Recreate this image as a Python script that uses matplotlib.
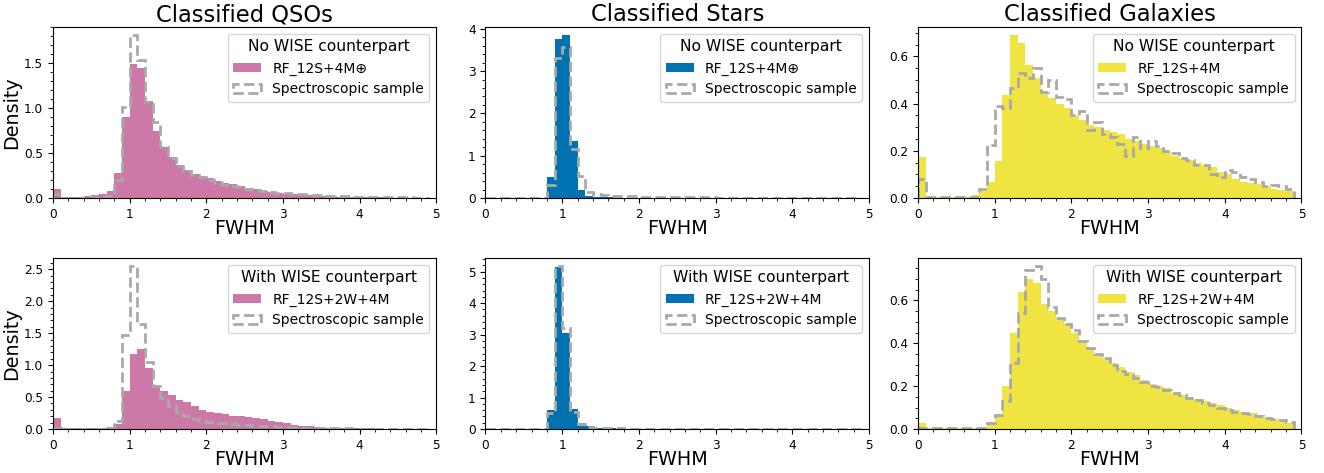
import numpy as np
import matplotlib
matplotlib.use("Agg")
import matplotlib.pyplot as plt
from matplotlib.ticker import AutoMinorLocator

# Bin edges (FWHM, width 0.1 from 0 to 4.9)
edges = np.round(np.arange(0, 4.91, 0.1), 2)

# Densidades: QSOs
qso_nowise_rf = [0.10, 0.01, 0.01, 0.015, 0.02, 0.035, 0.05, 0.08, 0.28, 0.90,
                 1.49, 1.45, 1.08, 0.74, 0.57, 0.46, 0.37, 0.31, 0.27, 0.24,
                 0.22, 0.19, 0.17, 0.155, 0.13, 0.11, 0.095, 0.08, 0.07, 0.06,
                 0.05, 0.04, 0.035, 0.03, 0.025, 0.02, 0.018, 0.015, 0.012, 0.01,
                 0.01, 0.008, 0.007, 0.006, 0.005, 0.005, 0.004, 0.004, 0.003]
qso_nowise_spec = [0.04, 0.005, 0.005, 0.005, 0.005, 0.01, 0.01, 0.02, 0.20, 1.01,
                   1.81, 1.53, 1.07, 0.84, 0.57, 0.45, 0.36, 0.30, 0.26, 0.23,
                   0.20, 0.17, 0.15, 0.13, 0.12, 0.10, 0.09, 0.08, 0.07, 0.06,
                   0.06, 0.05, 0.04, 0.035, 0.03, 0.025, 0.02, 0.02, 0.018, 0.015,
                   0.012, 0.01, 0.01, 0.01, 0.008, 0.008, 0.007, 0.006, 0.006]
qso_wise_rf = [0.17, 0.01, 0.01, 0.01, 0.015, 0.02, 0.02, 0.03, 0.08, 0.60,
               1.18, 1.25, 0.95, 0.69, 0.60, 0.54, 0.45, 0.42, 0.36, 0.29,
               0.27, 0.245, 0.235, 0.21, 0.20, 0.19, 0.17, 0.15, 0.13, 0.11,
               0.09, 0.07, 0.05, 0.04, 0.03, 0.02, 0.018, 0.015, 0.012, 0.01,
               0.01, 0.008, 0.007, 0.006, 0.005, 0.005, 0.004, 0.004, 0.003]
qso_wise_spec = [0.02, 0.0, 0.0, 0.0, 0.0, 0.005, 0.005, 0.01, 0.13, 1.47,
                 2.55, 1.65, 1.05, 0.68, 0.48, 0.36, 0.27, 0.20, 0.15, 0.13,
                 0.11, 0.10, 0.09, 0.08, 0.07, 0.06, 0.05, 0.045, 0.04, 0.035,
                 0.03, 0.025, 0.02, 0.018, 0.015, 0.012, 0.01, 0.01, 0.008, 0.007,
                 0.006, 0.005, 0.005, 0.004, 0.004, 0.003, 0.003, 0.003, 0.002]

# Estrellas
star_nowise_rf = [0, 0, 0, 0, 0, 0, 0, 0.005, 0.50, 3.75,
                  3.85, 1.35, 0.20, 0.05, 0.03, 0.02, 0.015, 0.01, 0.005, 0.003,
                  0.002, 0.002, 0.002, 0.001, 0.001, 0.001, 0.001, 0.001, 0.001, 0.001,
                  0, 0, 0, 0, 0, 0, 0, 0, 0, 0,
                  0, 0, 0, 0, 0, 0, 0, 0, 0]
star_nowise_spec = [0, 0, 0, 0, 0, 0, 0, 0.005, 0.30, 3.32,
                    3.58, 1.15, 0.52, 0.15, 0.09, 0.07, 0.06, 0.05, 0.045, 0.04,
                    0.035, 0.03, 0.03, 0.025, 0.025, 0.02, 0.02, 0.018, 0.015, 0.015,
                    0.012, 0.012, 0.01, 0.01, 0.01, 0.008, 0.008, 0.007, 0.007, 0.006,
                    0.006, 0.005, 0.005, 0.005, 0.004, 0.004, 0.004, 0.003, 0.003]
star_wise_rf = [0, 0, 0, 0, 0, 0, 0, 0.005, 0.60, 5.15,
                3.05, 0.65, 0.20, 0.10, 0.04, 0.02, 0.02, 0.015, 0.01, 0.008,
                0.005, 0.004, 0.003, 0.002, 0.002, 0.001, 0.001, 0.001, 0.001, 0.001,
                0, 0, 0, 0, 0, 0, 0, 0, 0, 0,
                0, 0, 0, 0, 0, 0, 0, 0, 0]
star_wise_spec = [0, 0, 0, 0, 0, 0, 0, 0.005, 0.50, 5.18,
                  3.20, 0.55, 0.15, 0.07, 0.04, 0.03, 0.02, 0.02, 0.015, 0.01,
                  0.01, 0.008, 0.006, 0.005, 0.005, 0.004, 0.004, 0.003, 0.003, 0.003,
                  0.002, 0.002, 0.002, 0.002, 0.002, 0.001, 0.001, 0.001, 0.001, 0.001,
                  0.001, 0.001, 0.001, 0.001, 0.001, 0.001, 0.001, 0.001, 0.001]

# Galaxias
gal_nowise_rf = [0.175, 0.003, 0.003, 0.003, 0.003, 0.003, 0.005, 0.012, 0.03, 0.07,
                 0.155, 0.435, 0.69, 0.655, 0.565, 0.51, 0.45, 0.425, 0.40, 0.38,
                 0.35, 0.33, 0.31, 0.30, 0.29, 0.28, 0.27, 0.25, 0.24, 0.23,
                 0.22, 0.21, 0.20, 0.18, 0.17, 0.16, 0.15, 0.14, 0.13, 0.11,
                 0.10, 0.08, 0.07, 0.065, 0.06, 0.05, 0.04, 0.035, 0.03]
gal_nowise_spec = [0.08, 0.003, 0.003, 0.003, 0.003, 0.003, 0.003, 0.005, 0.04, 0.225,
                   0.39, 0.38, 0.465, 0.53, 0.51, 0.55, 0.45, 0.50, 0.43, 0.42,
                   0.35, 0.37, 0.29, 0.32, 0.27, 0.26, 0.23, 0.18, 0.26, 0.21,
                   0.24, 0.22, 0.20, 0.19, 0.17, 0.16, 0.14, 0.14, 0.10, 0.09,
                   0.12, 0.11, 0.09, 0.08, 0.07, 0.05, 0.055, 0.05, 0.04]
gal_wise_rf = [0.03, 0.003, 0.003, 0.003, 0.003, 0.003, 0.003, 0.003, 0.005, 0.02,
               0.06, 0.20, 0.45, 0.64, 0.70, 0.68, 0.585, 0.55, 0.52, 0.49,
               0.45, 0.41, 0.38, 0.35, 0.33, 0.31, 0.29, 0.265, 0.25, 0.23,
               0.21, 0.20, 0.19, 0.17, 0.16, 0.15, 0.14, 0.13, 0.12, 0.11,
               0.10, 0.09, 0.08, 0.075, 0.065, 0.055, 0.045, 0.035, 0.03]
gal_wise_spec = [0.005, 0.003, 0.003, 0.003, 0.003, 0.003, 0.003, 0.003, 0.003, 0.03,
                 0.065, 0.13, 0.31, 0.54, 0.74, 0.76, 0.70, 0.57, 0.52, 0.49,
                 0.46, 0.41, 0.38, 0.35, 0.33, 0.30, 0.27, 0.255, 0.24, 0.22,
                 0.20, 0.195, 0.18, 0.17, 0.16, 0.145, 0.135, 0.12, 0.11, 0.10,
                 0.09, 0.08, 0.075, 0.07, 0.06, 0.05, 0.045, 0.04, 0.035]

titles = ["Classified QSOs", "Classified Stars", "Classified Galaxies"]
colors = ["#CC79A7", "#0072B2", "#F0E442"]
row_titles = ["No WISE counterpart", "With WISE counterpart"]
labels = [["RF_12S+4M\u2295", "RF_12S+4M\u2295", "RF_12S+4M"],
          ["RF_12S+2W+4M", "RF_12S+2W+4M", "RF_12S+2W+4M"]]
rf_data = [[qso_nowise_rf, star_nowise_rf, gal_nowise_rf],
           [qso_wise_rf, star_wise_rf, gal_wise_rf]]
spec_data = [[qso_nowise_spec, star_nowise_spec, gal_nowise_spec],
             [qso_wise_spec, star_wise_spec, gal_wise_spec]]

fig, axes = plt.subplots(2, 3, figsize=(13.24, 4.73), dpi=100)
fig.subplots_adjust(left=0.040, right=0.983, top=0.943, bottom=0.093,
                    wspace=0.128, hspace=0.35)

centers = edges[:-1] + 0.05
for i in range(2):
    for j in range(3):
        ax = axes[i, j]
        ax.hist(centers, bins=edges, weights=rf_data[i][j], histtype="stepfilled",
                color=colors[j], label=labels[i][j])
        ax.hist(centers, bins=edges, weights=spec_data[i][j], histtype="step",
                color="darkgray", linestyle="--", linewidth=2,
                label="Spectroscopic sample")
        ax.set_xlim(0, 5)
        ax.set_xticks([0, 1, 2, 3, 4, 5])
        ax.xaxis.set_minor_locator(AutoMinorLocator())
        ax.yaxis.set_minor_locator(AutoMinorLocator())
        ax.tick_params(labelsize=8.7)
        ax.set_xlabel("FWHM", fontsize=13.8, labelpad=-1.5)
        if j == 0:
            ax.set_ylabel("Density", fontsize=13.8, labelpad=2)
        if i == 0:
            ax.set_title(titles[j], fontsize=16.3, pad=4)
        ax.legend(title=row_titles[i], fontsize=10, title_fontsize=11.2,
                  loc="upper right")

fig.savefig("out.png", dpi=100)
